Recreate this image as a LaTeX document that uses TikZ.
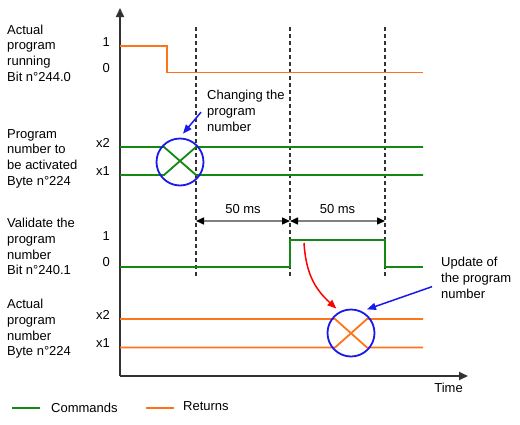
\documentclass[tikz,border=0pt]{standalone}
\usepackage{fontspec}
\setmainfont{Liberation Sans}
\usetikzlibrary{arrows.meta}

\definecolor{cmdgreen}{RGB}{20,135,20}
\definecolor{retorange}{RGB}{255,115,25}
\definecolor{ringblue}{RGB}{25,25,235}
\definecolor{axisgray}{RGB}{50,50,50}

\begin{document}
\begin{tikzpicture}[x=1pt, y=-1pt,
    font=\fontsize{13}{15.7}\selectfont,
    cmd/.style={cmdgreen, line width=1.8pt},
    ret/.style={retorange, line width=1.8pt},
    marker/.style={axisgray, line width=1.2pt, dash pattern=on 4pt off 3pt},
    ring/.style={circle, draw=ringblue, line width=1.8pt, minimum size=47pt, inner sep=0pt, outer sep=5pt},
    pointer/.style={line width=1.5pt, -{Triangle[length=9pt, width=7pt]}},
    dimline/.style={gray, line width=1.5pt, {Triangle[length=8pt, width=7pt, black]}-{Triangle[length=8pt, width=7pt, black]}},
    sig/.style={anchor=north west, align=left, inner sep=0pt},
    lvl/.style={anchor=base east, inner sep=0pt}]

    \useasboundingbox (0,0) rectangle (520,424);

    % --- axes ---
    \coordinate (origin) at (120,376);
    \draw[axisgray, line width=1.8pt, -{Triangle[length=9pt, width=8pt]}] (origin) -- (120,8);
    \draw[axisgray, line width=1.8pt, -{Triangle[length=9pt, width=8pt]}] (origin) -- (468,376);
    \node[anchor=base east, inner sep=0pt] (time) at (463,392.5) {Time};

    % time markers
    \foreach \x in {196,290,385}
        \draw[marker] (\x,27) -- (\x,276);

    % --- signal names ---
    \node[sig] (run) at (7,24.5) {Actual\\program\\running\\Bit n°244.0};
    \node[sig] (sel) at (7,129) {Program\\number to\\be activated\\Byte n°224};
    \node[sig] (val) at (7,218) {Validate the\\program\\number\\Bit n°240.1};
    \node[sig] (act) at (7,299) {Actual\\program\\number\\Byte n°224};

    % levels
    \foreach \y/\t [count=\i] in {46/1, 72.5/0, 147/x2, 175/x1, 240/1, 266.7/0, 319/x2, 347.5/x1}
        \node[lvl] (lvl\i) at (110,\y) {\t};

    % --- signals ---
    % program running bit (return)
    \draw[ret] (120,46) -- (167,46) -- (167,72.5) -- (423,72.5);

    % program number to be activated (command)
    \draw[cmd] (120,147) -- (164,147) -- (196,175) -- (423,175);
    \draw[cmd] (120,175) -- (164,175) -- (196,147) -- (423,147);

    % validate bit (command)
    \draw[cmd] (120,266.7) -- (290,266.7) -- (290,240) -- (385,240) -- (385,266.7) -- (423,266.7);

    % actual program number (return)
    \draw[ret] (120,319) -- (335,319) -- (367,347.5) -- (423,347.5);
    \draw[ret] (120,347.5) -- (335,347.5) -- (367,319) -- (423,319);

    % --- 50 ms spans ---
    \coordinate (d1) at (196,221);
    \coordinate (d2) at (290,221);
    \coordinate (d3) at (385,221);
    \draw[dimline] (d1) -- node[above=3pt, black] (ms1) {50 ms} (d2);
    \draw[dimline] (d2) -- node[above=3pt, black] (ms2) {50 ms} (d3);

    % --- changes ---
    \node[ring] (chg) at (180,162) {};
    \node[ring] (upd) at (351,333) {};

    \node[sig] (chgtxt) at (207,90) {Changing the\\program\\number};
    \node[sig] (updtxt) at (441,257) {Update of\\the program\\number};

    \draw[pointer, ringblue] ([shift={(-6,1.5)}]chgtxt.west) -- (chg.84);
    \draw[pointer, ringblue] ([shift={(-9,9)}]updtxt.west) -- (upd.56);

    \coordinate (trig) at (304,243);
    \draw[pointer, red] (trig) .. controls (306,275) and (316,290) .. (upd.121);

    % --- legend ---
    \draw[cmd] (12,408) -- (40,408);
    \node[anchor=base west, inner sep=0pt] (cmdkey) at (51,412.3) {Commands};
    \draw[ret] (146,408) -- (174,408);
    \node[anchor=base west, inner sep=0pt] (retkey) at (183,410) {Returns};

\end{tikzpicture}
\end{document}
